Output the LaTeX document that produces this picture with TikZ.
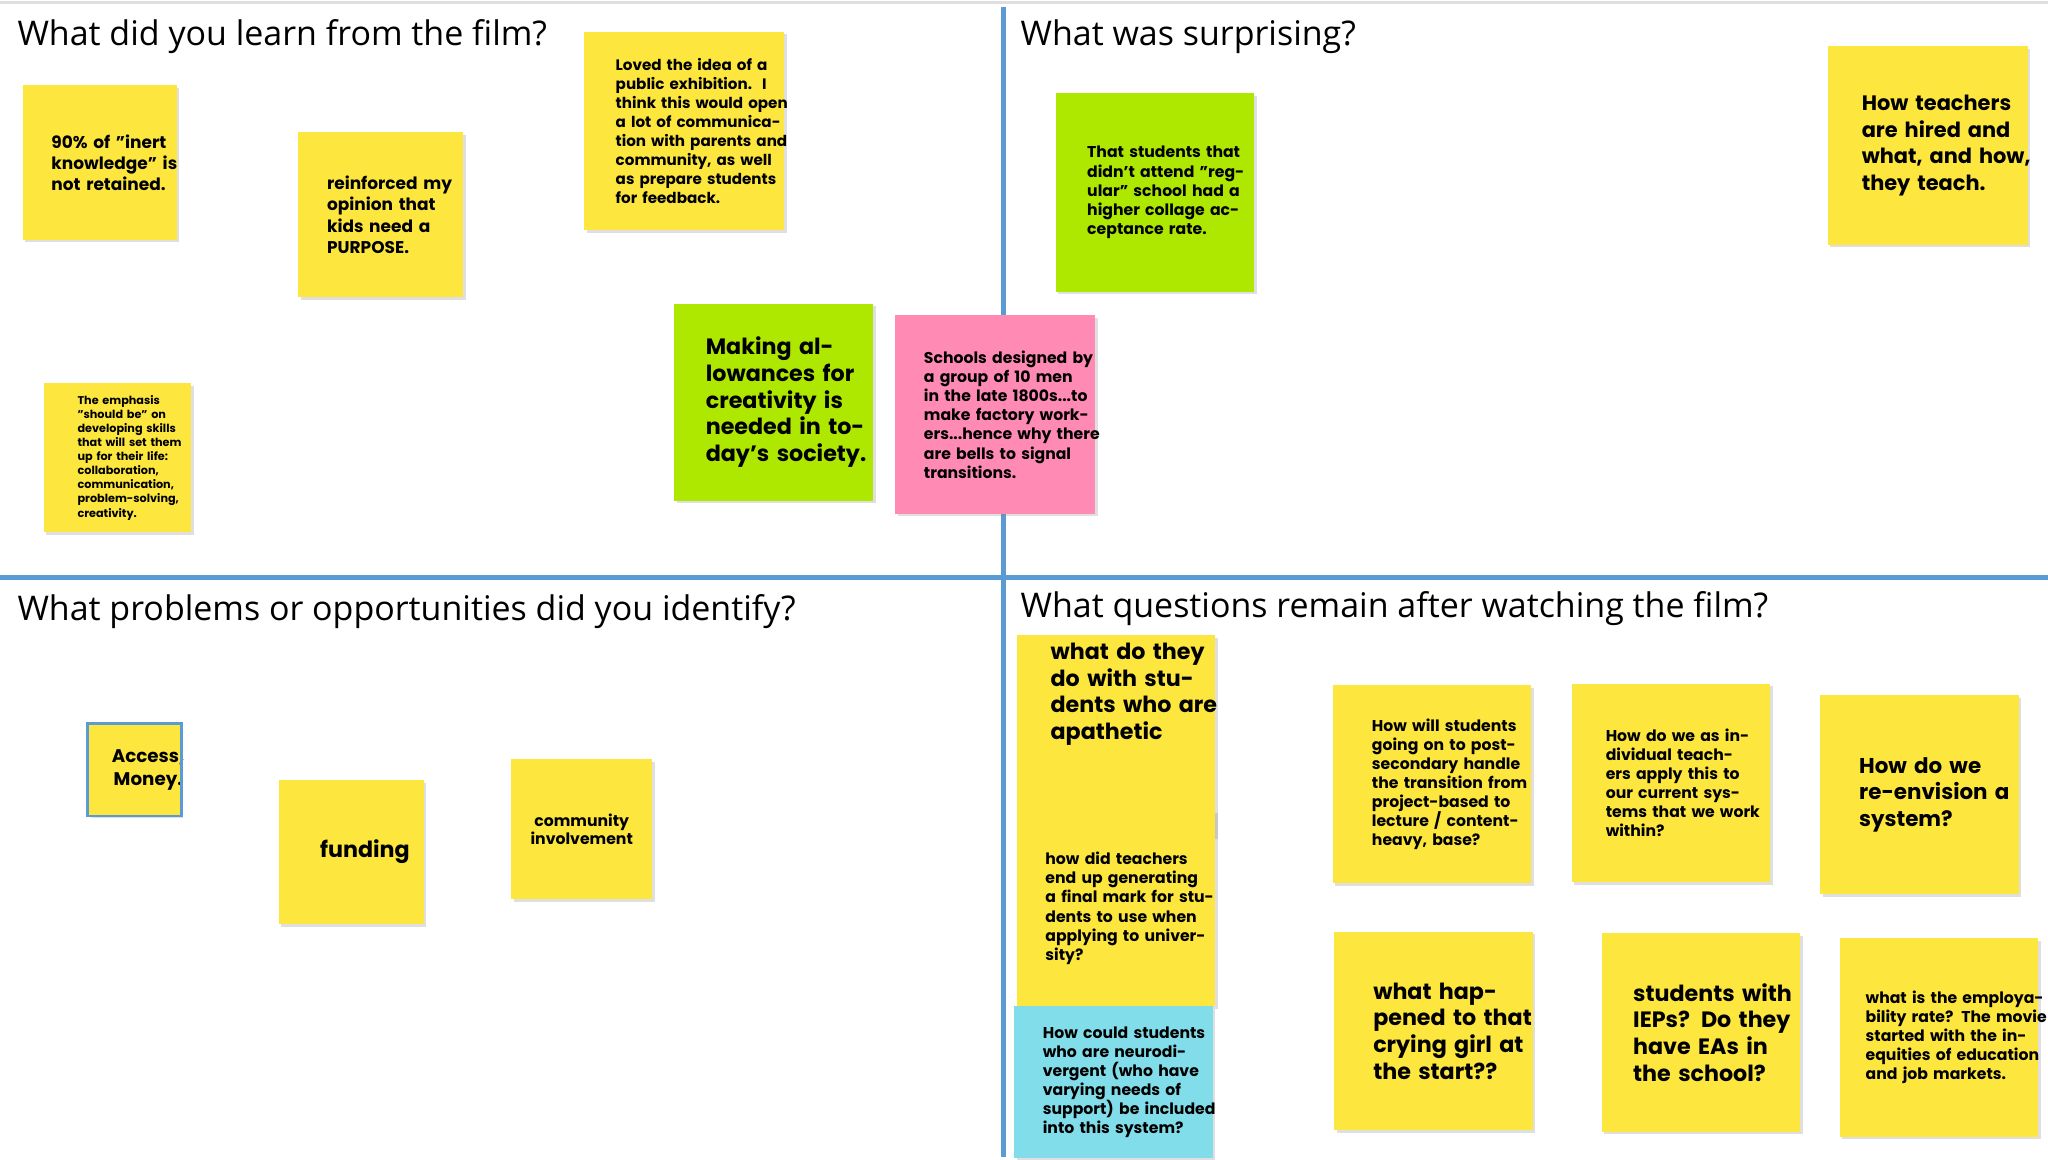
\documentclass[tikz,border=0pt]{standalone}
\usepackage{fontspec}
\setmainfont{Poppins}
\newfontfamily\titlefont{Open Sans}
\usetikzlibrary{shadows}
\definecolor{sy}{HTML}{FDE73E}
\definecolor{sg}{HTML}{AEE800}
\definecolor{sp}{HTML}{FF8AB3}
\definecolor{sc}{HTML}{82DDEA}
\definecolor{div}{HTML}{5B9BD5}
\tikzset{
  sticky/.style={anchor=north west, inner sep=0pt, align=left, drop shadow={shadow xshift=1pt,shadow yshift=-1pt,opacity=0.25}},
  ttl/.style={anchor=west, inner sep=0pt, font=\titlefont\fontsize{13}{15}\selectfont},
}
% #1 name, #2 x1, #3 y1, #4 width, #5 height, #6 color, #7 font size, #8 leading, #9 text
\newcommand\stk[9]{%
  \node[sticky, fill=#6, minimum width=#4*0.5pt, minimum height=#5*0.5pt, text width=#4*0.5pt-12pt,
        font=\bfseries\fontsize{#7}{#8}\selectfont] (#1) at (#2,#3) {\hspace*{0pt}#9};}
\begin{document}
\begin{tikzpicture}[x=0.5pt,y=-0.5pt]
\useasboundingbox (0,0) rectangle (1568,888);
\fill[white] (0,0) rectangle (1568,888);
\draw[gray!25, line width=1pt] (0,2) -- (1568,2);
\coordinate (vt) at (768,5); \coordinate (vb) at (768,886);
\coordinate (hl) at (0,442); \coordinate (hr) at (1568,442);
\draw[div, line width=2pt] (vt) -- (vb);
\draw[div, line width=2pt] (hl) -- (hr);
\node[ttl] (t1) at (13,28) {What did you learn from the film?};
\node[ttl] (t2) at (781,28) {What was surprising?};
\node[ttl] (t3) at (13,468) {What problems or opportunities did you identify?};
\node[ttl] (t4) at (781,466) {What questions remain after watching the film?};
% stickies
\stk{a}{17}{65}{118}{118}{sy}{6.5}{8}{\hspace*{5pt}\parbox{50pt}{90\% of "inert knowledge" is not retained.}}
\stk{b}{228}{101}{126}{126}{sy}{6.5}{8.2}{\hspace*{5pt}\parbox{52pt}{reinforced my opinion that kids need a PURPOSE.}}
\stk{c}{447}{24}{153}{152}{sy}{5.8}{7.3}{\hspace*{6pt}\parbox{66pt}{Loved the idea of a public exhibition.\ \ I think this would open a lot of communication with parents and community, as well as prepare students for feedback.}}
\stk{d}{33}{293}{113}{114}{sy}{4.3}{5.4}{\hspace*{7pt}\parbox{44pt}{The emphasis "should be" on developing skills that will set them up for their life: collaboration, communication, problem-solving, creativity.}}
\stk{e}{516}{232}{152}{151}{sg}{8.5}{10.2}{\hspace*{6pt}\parbox{66pt}{Making allowances for creativity is needed in today's society.}}
\stk{f}{685}{241}{153}{152}{sp}{6}{7.35}{\hspace*{5pt}\parbox{68pt}{Schools designed by a group of 10 men in the late 1800s...to make factory workers...hence why there are bells to signal transitions.}}
\stk{g}{808}{71}{152}{152}{sg}{6}{7.35}{\hspace*{6pt}\parbox{66pt}{That students that didn't attend "regular" school had a higher collage acceptance rate.}}
\stk{h}{1399}{35}{153}{152}{sy}{8}{10.2}{\hspace*{7pt}\parbox{66pt}{How teachers are hired and what, and how, they teach.}}
\stk{i}{67}{554}{71}{70}{sy}{7}{9}{\parbox{34pt}{\centering Access, Money.}}
\draw[div, line width=1pt] (i.north west) rectangle (i.south east);
\stk{j}{213}{597}{111}{110}{sy}{8.5}{10}{\parbox{54pt}{\centering funding}}
\node[sticky, fill=sy, minimum width=54pt, minimum height=53.5pt, text width=54pt, align=center, font=\fontsize{6}{7}\selectfont\bfseries] (k) at (391,581) {community\\involvement\\[6pt]};
\stk{l}{778}{486}{152}{154}{sy}{8.5}{10.2}{\hspace*{7pt}\parbox{64pt}{what do they do with students who are apathetic\\[24pt]}}
\stk{m}{778}{620}{152}{150}{sy}{6}{7.3}{\hspace*{5pt}\parbox{68pt}{how did teachers end up generating a final mark for students to use when applying to university?}}
\stk{n}{776}{770}{152}{116}{sc}{6}{7.3}{\hspace*{5pt}\parbox{68pt}{How could students who are neurodivergent (who have varying needs of support) be included into this system?}}
\stk{o}{1020}{524}{152}{152}{sy}{6}{7.3}{\hspace*{9pt}\parbox{62pt}{How will students going on to post-secondary handle the transition from project-based to lecture / content-heavy, base?}}
\stk{p}{1203}{523}{152}{152}{sy}{6}{7.3}{\hspace*{7pt}\parbox{64pt}{How do we as individual teachers apply this to our current systems that we work within?}}
\stk{q}{1393}{532}{152}{152}{sy}{8.2}{10.2}{\hspace*{9pt}\parbox{64pt}{How do we re-envision a system?}}
\stk{r}{1021}{713}{152}{152}{sy}{8.5}{10.2}{\hspace*{9pt}\parbox{64pt}{what happened to that crying girl at the start??}}
\stk{s}{1226}{714}{152}{152}{sy}{8.5}{10.2}{\hspace*{6pt}\parbox{68pt}{students with IEPs? Do they have EAs in the school?}}
\stk{u}{1408}{718}{152}{152}{sy}{6}{7.3}{\hspace*{4pt}\parbox{70pt}{what is the employability rate? The movie started with the inequities of education and job markets.}}
\end{tikzpicture}
\end{document}
